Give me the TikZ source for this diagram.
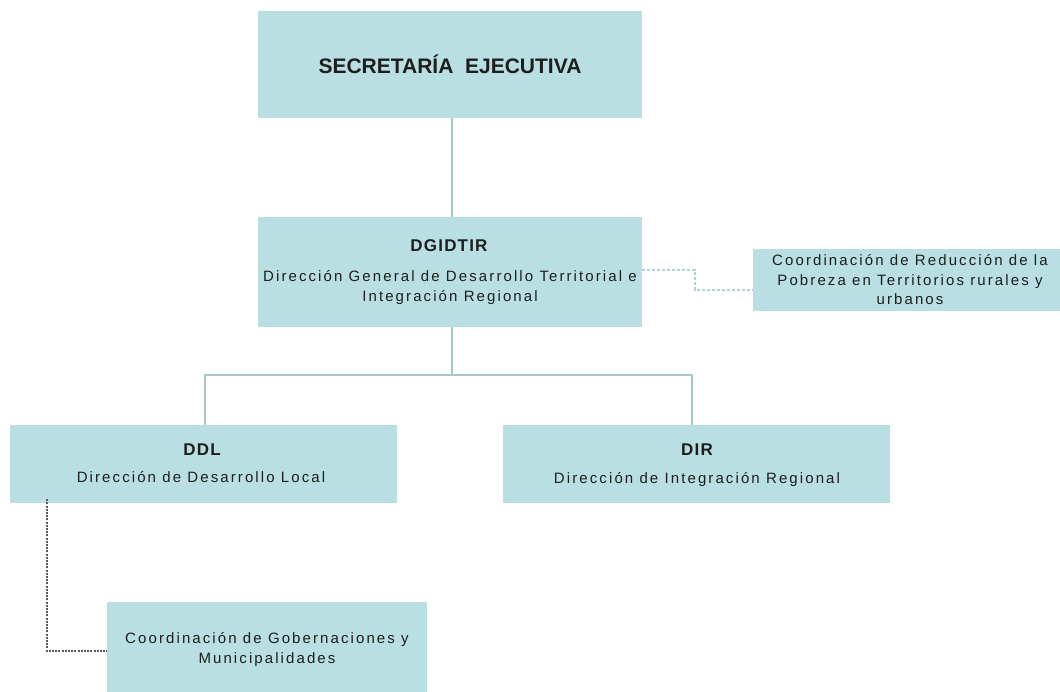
\documentclass[tikz,border=0pt]{standalone}
\usepackage{fontspec}
\setmainfont{Liberation Sans}
\newfontfamily\regfont[LetterSpace=14]{Liberation Sans}
\newfontfamily\headfont[LetterSpace=7]{Liberation Sans Bold}
\begin{document}
\begin{tikzpicture}[x=1pt,y=-1pt,
  box/.style={draw=none,fill=boxfill,inner sep=0pt,align=center,text=textcol},
  solidline/.style={draw=linecol,line width=2.8pt},
  dashline/.style={draw=dashcol,line width=1.2pt,dash pattern=on 3pt off 2pt},
  dotline/.style={draw=dotcol,line width=1.4pt,dash pattern=on 2pt off 1.2pt},
  txt/.style={font=\regfont\fontsize{15}{19.5}\selectfont,text=textcol,align=center},
  head/.style={font=\headfont\fontsize{17}{20}\selectfont,text=textcol}]
\definecolor{boxfill}{HTML}{B9DFE2}
\definecolor{linecol}{HTML}{A9C6C8}
\definecolor{dashcol}{HTML}{A8D4D8}
\definecolor{dotcol}{HTML}{5A5A5A}
\definecolor{textcol}{HTML}{1E1E1E}
\useasboundingbox (0,0) rectangle (1060,691);
% boxes
\node[box,minimum width=384pt,minimum height=107pt,font=\bfseries\fontsize{21}{24}\selectfont] (se) at (450,64.5) {SECRETARÍA\ \ EJECUTIVA};
\node[box,minimum width=384pt,minimum height=110pt] (dg) at (450,272) {};
\node[head] (dgt) at (449,246) {DGIDTIR};
\node[txt,font=\regfont\fontsize{15}{20}\selectfont] (dgs) at (450,288) {Dirección General de Desarrollo Territorial e\\Integración Regional};
\node[box,minimum width=307pt,minimum height=62pt] (cr) at (906.5,280) {};
\node[txt] (crt) at (910,280) {Coordinación de Reducción de la\\Pobreza en Territorios rurales y\\urbanos};
\node[box,minimum width=387pt,minimum height=78pt] (ddl) at (203.5,464) {};
\node[head] (ddlt) at (202,450) {DDL};
\node[txt] (ddls) at (201,477) {Dirección de Desarrollo Local};
\node[box,minimum width=387pt,minimum height=78pt] (dir) at (696.5,464) {};
\node[head] (dirt) at (697,450) {DIR};
\node[txt] (dirs) at (697,480) {Dirección de Integración Regional};
\node[box,minimum width=320pt,minimum height=92pt] (cg) at (267,648) {};
\node[txt,font=\regfont\fontsize{15}{20}\selectfont] (cgt) at (267,650) {Coordinación de Gobernaciones y\\Municipalidades};
% connectors
\draw[solidline] (se.south -| 452,0) -- (dg.north -| 452,0);
\coordinate (bj) at (452,375);
\draw[solidline] (dg.south -| 452,0) -- (bj);
\draw[solidline] (ddl.north -| 205,0) |- (bj) -| (dir.north -| 692,0);
\coordinate (d1) at (695,270);
\draw[dashline] (dg.east |- d1) -- (d1) |- (cr.west |- 0,290);
\coordinate (g1) at (47,651);
\draw[dotline] ([yshift=4pt]ddl.south -| g1) -- (g1) -- (cg.west |- g1);
\end{tikzpicture}
\end{document}
